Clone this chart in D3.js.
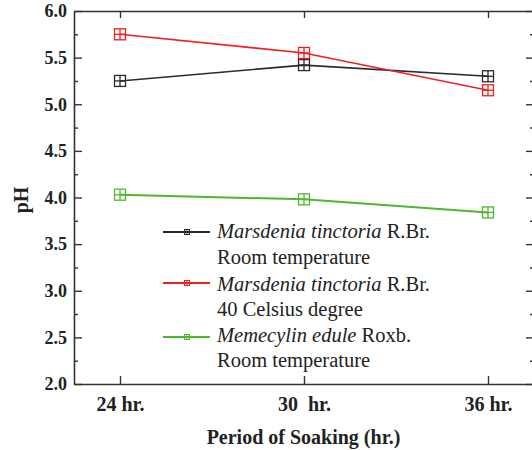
<!DOCTYPE html>
<html>
<head>
<meta charset="utf-8">
<script src="https://cdn.jsdelivr.net/npm/d3@7"></script>
<style>
  html, body { margin: 0; padding: 0; background: #fff; }
  svg { display: block; }
  text { font-family: "Liberation Serif", "Times New Roman", serif; }
</style>
</head>
<body>
<script>
const hours = [24, 30, 36];
const hourLabels = ["24 hr.", "30  hr.", "36 hr."];
const yMajorTicks = [2.0, 2.5, 3.0, 3.5, 4.0, 4.5, 5.0, 5.5, 6.0];
const yMinorTicks = [2.25, 2.75, 3.25, 3.75, 4.25, 4.75, 5.25, 5.75];
const mtRoom = [5.25, 5.42, 5.30];
const mt40 = [5.75, 5.55, 5.15];
const meRoom = [4.03, 3.98, 3.84];
const seriesNames = [
  ["Marsdenia tinctoria", " R.Br.", "Room temperature"],
  ["Marsdenia tinctoria", " R.Br.", "40 Celsius degree"],
  ["Memecylin edule", " Roxb.", "Room temperature"]
];
const seriesColors = ["#2a2a2a", "#f02020", "#4fb82e"];
const seriesValues = [mtRoom, mt40, meRoom];

const W = 532, H = 450;
const L = 74, R = 534, T = 11, B = 384;
const svg = d3.select("body").append("svg").attr("width", W).attr("height", H);

const x = d3.scaleLinear().domain([22.5, 37.5]).range([L, R]);
const y = d3.scaleLinear().domain([2, 6]).range([B, T]);
const axisColor = "#333";

function styleAxis(g) {
  g.select(".domain").attr("stroke", axisColor).attr("stroke-width", 1.6);
  g.selectAll(".tick line").attr("stroke", axisColor).attr("stroke-width", 1.4);
}

// Left axis
const gl = svg.append("g").attr("transform", `translate(${L},0)`)
  .call(d3.axisLeft(y).tickValues(yMajorTicks).tickSize(-8).tickSizeOuter(0).tickPadding(7).tickFormat(d3.format(".1f")));
styleAxis(gl);
gl.selectAll(".tick text").attr("font-size", 18).attr("font-weight", "bold").attr("fill", "#222")
  .attr("font-family", "Liberation Serif, serif");
svg.append("g").attr("transform", `translate(${L},0)`)
  .call(d3.axisLeft(y).tickValues(yMinorTicks).tickSize(-4).tickSizeOuter(0).tickFormat(""))
  .call(g => { g.select(".domain").remove(); g.selectAll(".tick line").attr("stroke", axisColor).attr("stroke-width", 1.4); });

// Right axis
const gr = svg.append("g").attr("transform", `translate(${R},0)`)
  .call(d3.axisRight(y).tickValues(yMajorTicks).tickSize(-8).tickSizeOuter(0).tickFormat(""));
styleAxis(gr);
svg.append("g").attr("transform", `translate(${R},0)`)
  .call(d3.axisRight(y).tickValues(yMinorTicks).tickSize(-4).tickSizeOuter(0).tickFormat(""))
  .call(g => { g.select(".domain").remove(); g.selectAll(".tick line").attr("stroke", axisColor).attr("stroke-width", 1.4); });

// Bottom axis
const gb = svg.append("g").attr("transform", `translate(0,${B})`)
  .call(d3.axisBottom(x).tickValues(hours).tickSize(-8).tickSizeOuter(0).tickPadding(13)
    .tickFormat((d, i) => hourLabels[i]));
styleAxis(gb);
gb.selectAll(".tick text").attr("font-size", 20).attr("font-weight", "bold").attr("fill", "#222")
  .attr("font-family", "Liberation Serif, serif").style("white-space", "pre");

// Top axis
const gt = svg.append("g").attr("transform", `translate(0,${T})`)
  .call(d3.axisTop(x).tickValues(hours).tickSize(-7).tickSizeOuter(0).tickFormat(""));
styleAxis(gt);

// Axis titles
svg.append("text").attr("x", 303.5).attr("y", 444).attr("text-anchor", "middle")
  .attr("font-size", 20).attr("font-weight", "bold").attr("fill", "#222")
  .text("Period of Soaking (hr.)");
svg.append("text").attr("transform", "translate(28,200) rotate(-90)").attr("text-anchor", "middle")
  .attr("font-size", 20).attr("font-weight", "bold").attr("fill", "#222")
  .text("pH");

// Marker helper
function marker(g, cx, cy, s, color, sw) {
  const h = s / 2;
  g.append("rect").attr("x", cx - h).attr("y", cy - h).attr("width", s).attr("height", s)
    .attr("fill", "none").attr("stroke", color).attr("stroke-width", sw);
  g.append("line").attr("x1", cx - h).attr("x2", cx + h).attr("y1", cy).attr("y2", cy)
    .attr("stroke", color).attr("stroke-width", sw);
  g.append("line").attr("x1", cx).attr("x2", cx).attr("y1", cy - h).attr("y2", cy + h)
    .attr("stroke", color).attr("stroke-width", sw);
}

const line = d3.line().x((d, i) => x(hours[i])).y(d => y(d));
seriesValues.forEach((vals, si) => {
  const g = svg.append("g");
  g.append("path").datum(vals).attr("d", line).attr("fill", "none")
    .attr("stroke", seriesColors[si]).attr("stroke-width", si === 2 ? 2 : 1.6);
  vals.forEach((v, i) => marker(g, x(hours[i]), y(v), 11, seriesColors[si], 1.3));
});

// Legend
const legRowY = [232, 283, 337];
const legTextY = [[238, 264], [291, 316], [342, 367]];
seriesNames.forEach((nm, si) => {
  const g = svg.append("g");
  g.append("line").attr("x1", 163).attr("x2", 210).attr("y1", legRowY[si]).attr("y2", legRowY[si])
    .attr("stroke", seriesColors[si]).attr("stroke-width", 2);
  marker(g, 187, legRowY[si], 5, seriesColors[si], 1);
  const t = g.append("text").attr("x", 217).attr("y", legTextY[si][0]).attr("font-size", 20.5).attr("fill", "#222");
  t.append("tspan").attr("font-style", "italic").text(nm[0]);
  t.append("tspan").text(nm[1]);
  g.append("text").attr("x", 217).attr("y", legTextY[si][1]).attr("font-size", 20.5).attr("fill", "#222").text(nm[2]);
});
</script>
</body>
</html>
